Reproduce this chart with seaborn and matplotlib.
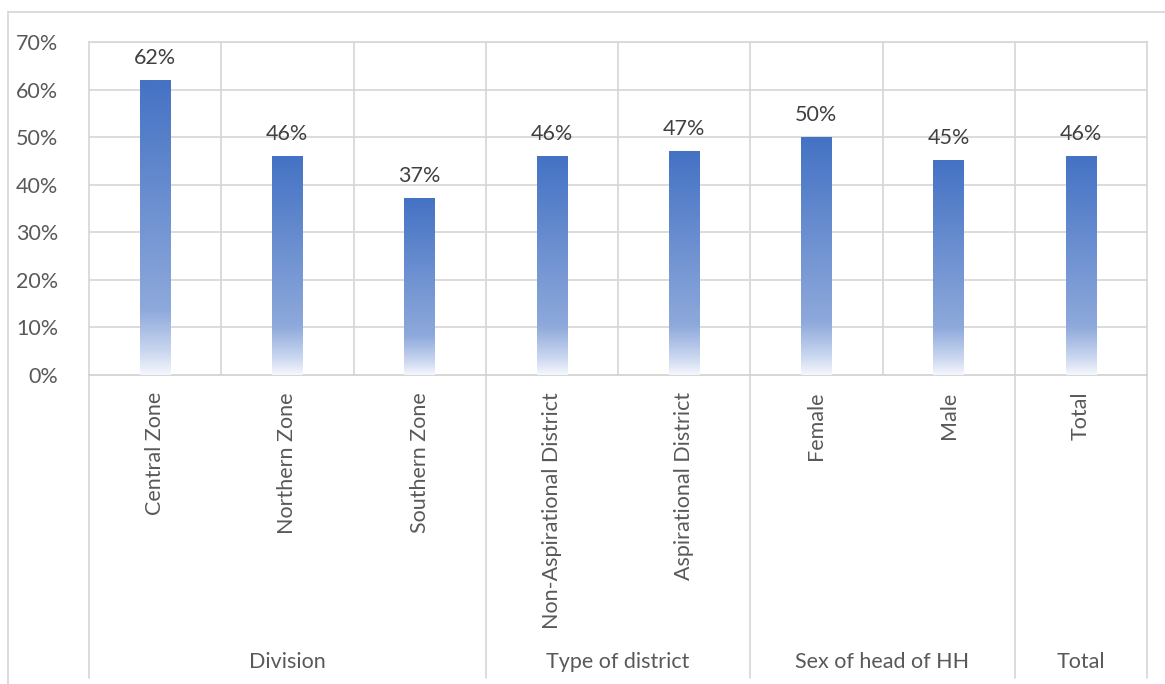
import numpy as np
import matplotlib
matplotlib.use("Agg")
import matplotlib.pyplot as plt
import matplotlib.transforms as mtransforms
from matplotlib.colors import to_rgb
import seaborn as sns

categories = ["Central Zone", "Northern Zone", "Southern Zone",
              "Non-Aspirational District", "Aspirational District",
              "Female", "Male", "Total"]
values = [0.62, 0.46, 0.37, 0.46, 0.47, 0.50, 0.45, 0.46]
value_labels = ["62%", "46%", "37%", "46%", "47%", "50%", "45%", "46%"]
groups = ["Division", "Type of district", "Sex of head of HH", "Total"]
group_sizes = [3, 2, 2, 1]
y_ticks = [0, 0.1, 0.2, 0.3, 0.4, 0.5, 0.6, 0.7]
y_tick_labels = ["0%", "10%", "20%", "30%", "40%", "50%", "60%", "70%"]

sns.set_theme(style="white")
plt.rcParams["font.family"] = ["Lato", "DejaVu Sans"]

GRID = "#D6D6D6"
TEXT = "#595959"
FS = 15.5

W, H = 1165, 684
fig = plt.figure(figsize=(W / 100, H / 100), dpi=100)
left, right, top, bottom = 89, 1147, 42, 375
ax = fig.add_axes([left / W, (H - bottom) / H, (right - left) / W, (bottom - top) / H])

sns.barplot(x=categories, y=values, color="#4472C4", width=0.23,
            ax=ax, zorder=3, saturation=1)

# vertical gradient fill for each bar: deep blue at the top fading to white at the base
stops = [(0.0, "#F4F7FC"), (0.08, "#C9D6EF"), (0.22, "#8EA9DB"), (1.0, "#4472C4")]
n = 256
pos = np.linspace(0, 1, n)
grad = np.zeros((n, 1, 3))
for c in range(3):
    grad[:, 0, c] = np.interp(pos, [s[0] for s in stops], [to_rgb(s[1])[c] for s in stops])

for patch in ax.patches:
    x0 = patch.get_x()
    w = patch.get_width()
    h = patch.get_height()
    ax.imshow(grad, extent=[x0, x0 + w, 0, h], origin="lower",
              aspect="auto", zorder=3, interpolation="bilinear")
    patch.set_facecolor("none")
    patch.set_edgecolor("none")

for i, (v, lab) in enumerate(zip(values, value_labels)):
    ax.annotate(lab, (i, v), xytext=(0, 9), textcoords="offset points",
                ha="center", va="bottom", fontsize=FS, color="#404040")

ax.set_xlim(-0.5, len(categories) - 0.5)
ax.set_ylim(0, 0.7)
ax.set_yticks(y_ticks)
ax.set_yticklabels(y_tick_labels)
ax.tick_params(axis="y", length=0, pad=22, labelsize=FS, labelcolor=TEXT)
ax.set_ylabel("")
ax.set_xlabel("")

# gridlines
for t in y_ticks[1:]:
    ax.axhline(t, color=GRID, lw=1.2, zorder=1)
for i in range(len(categories) - 1):
    ax.axvline(i + 0.5, color=GRID, lw=1.2, zorder=1)
for s in ax.spines.values():
    s.set_color(GRID)
    s.set_linewidth(1.2)
ax.spines["bottom"].set_color("#CFCFCF")

# category labels, rotated
ax.set_xticks(range(len(categories)))
ax.set_xticklabels([])
ax.tick_params(axis="x", length=0)
trans = mtransforms.blended_transform_factory(ax.transData, ax.transAxes)
label_top = -17 / (bottom - top)
for i, c in enumerate(categories):
    ax.text(i, label_top, c, rotation=90, ha="center", va="top",
            fontsize=FS, color=TEXT, transform=trans)

# group separators and group labels below the axis
line_bottom = (H - 678 - (H - bottom)) / (bottom - top)
group_label_y = (H - 662 - (H - bottom)) / (bottom - top)
edges = [-0.5]
for g in group_sizes:
    edges.append(edges[-1] + g)
for e in edges:
    ax.plot([e, e], [0, line_bottom], color=GRID, lw=1.2, transform=trans,
            clip_on=False, zorder=1)
for gname, a, b in zip(groups, edges[:-1], edges[1:]):
    ax.text((a + b) / 2, group_label_y, gname, ha="center", va="center",
            fontsize=FS, color=TEXT, transform=trans)

# chart frame
fig.add_artist(plt.Line2D([8 / W, 1], [1 - 12 / H, 1 - 12 / H], color=GRID, lw=1.2))
fig.add_artist(plt.Line2D([8 / W, 8 / W], [0, 1 - 12 / H], color=GRID, lw=1.2))

fig.savefig("out.png", dpi=100, facecolor="white")
